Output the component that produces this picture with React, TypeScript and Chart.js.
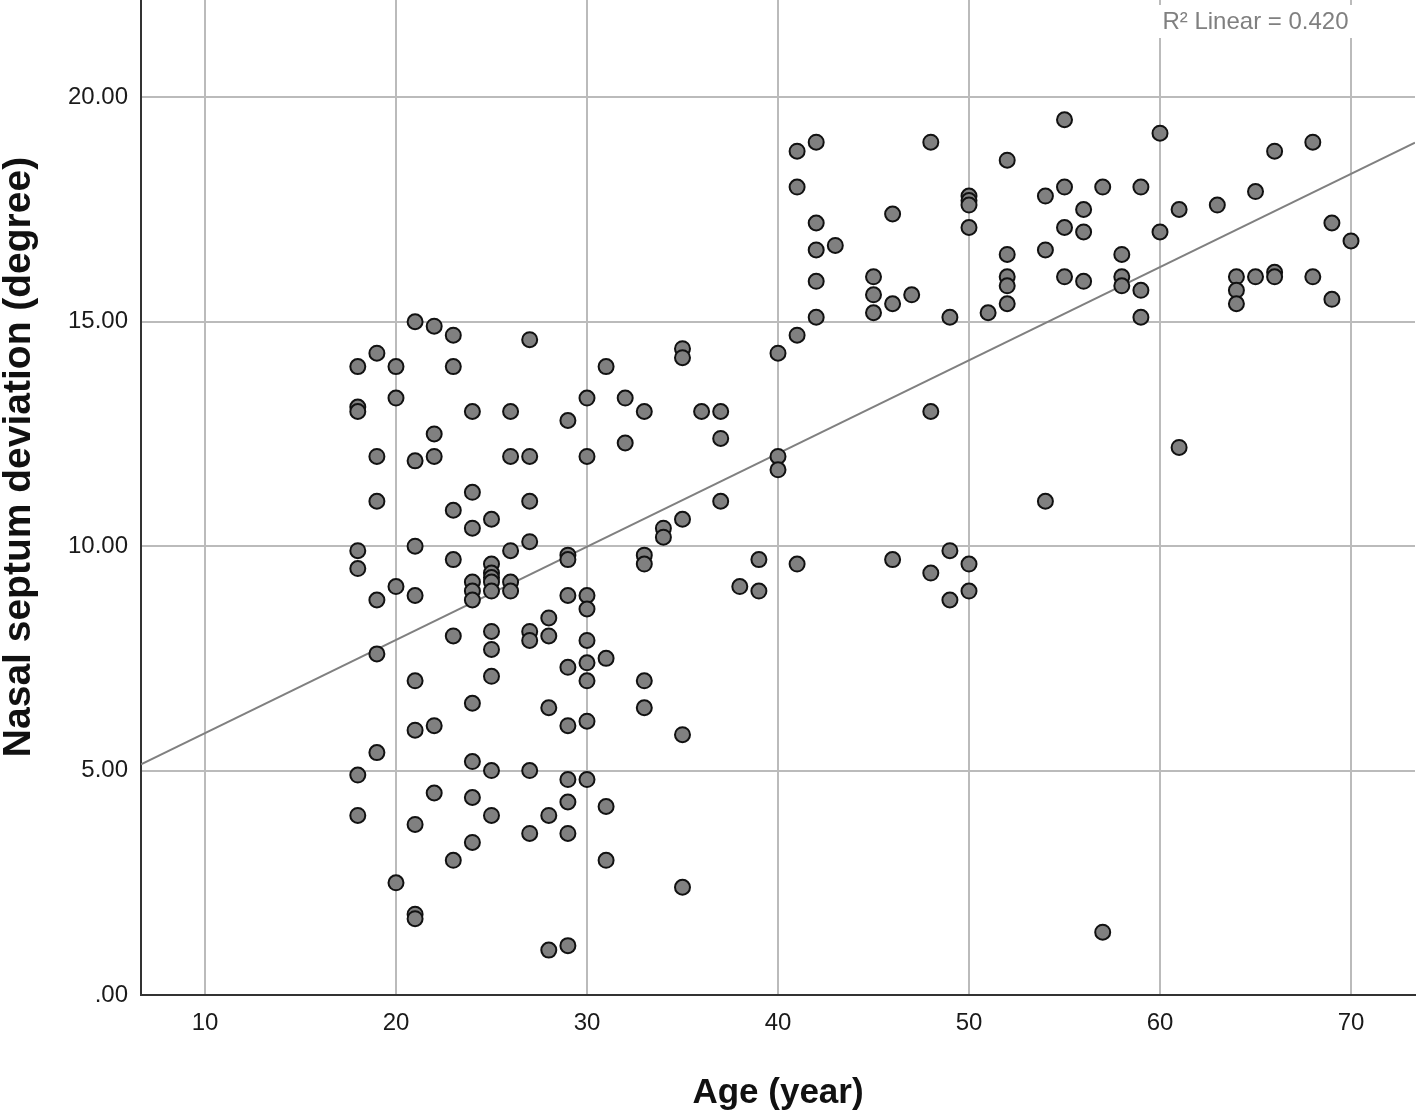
import React, { useEffect, useRef } from "react";
import { Chart, registerables } from "chart.js";

Chart.register(...registerables);

// Age (x) and septum deviation (y) of each case
const ages: number[] = [
  18, 18, 18, 18, 18, 18, 18,
  19, 19, 19, 19, 19, 19,
  20, 20, 20, 20,
  21, 21, 21, 21, 21, 21, 21, 21, 21,
  22, 22, 22, 22, 22,
  23, 23, 23, 23, 23, 23,
  24, 24, 24, 24, 24, 24, 24, 24, 24, 24,
  25, 25, 25, 25, 25, 25, 25, 25, 25, 25, 25,
  26, 26, 26, 26, 26,
  27, 27, 27, 27, 27, 27, 27, 27,
  28, 28, 28, 28, 28,
  29, 29, 29, 29, 29, 29, 29, 29, 29, 29,
  30, 30, 30, 30, 30, 30, 30, 30, 30,
  31, 31, 31, 31,
  32, 32,
  33, 33, 33, 33, 33,
  34, 34,
  35, 35, 35, 35, 35,
  36,
  37, 37, 37,
  38,
  39, 39,
  40, 40, 40,
  41, 41, 41, 41,
  42, 42, 42, 42, 42,
  43,
  45, 45, 45,
  46, 46, 46,
  47,
  48, 48, 48,
  49, 49, 49,
  50, 50, 50, 50, 50, 50,
  51,
  52, 52, 52, 52, 52,
  54, 54, 54,
  55, 55, 55, 55,
  56, 56, 56,
  57, 57,
  58, 58, 58,
  59, 59, 59,
  60, 60,
  61, 61,
  63,
  64, 64, 64,
  65, 65,
  66, 66, 66,
  68, 68,
  69, 69,
  70,
];

const deviations: number[] = [
  14.0, 13.1, 13.0, 9.9, 9.5, 4.9, 4.0,
  14.3, 12.0, 11.0, 8.8, 7.6, 5.4,
  14.0, 13.3, 9.1, 2.5,
  15.0, 11.9, 10.0, 8.9, 7.0, 5.9, 3.8, 1.8, 1.7,
  14.9, 12.5, 12.0, 6.0, 4.5,
  14.7, 14.0, 10.8, 9.7, 8.0, 3.0,
  13.0, 11.2, 10.4, 9.2, 9.0, 8.8, 6.5, 5.2, 4.4, 3.4,
  10.6, 9.6, 9.4, 9.3, 9.2, 9.0, 8.1, 7.7, 7.1, 5.0, 4.0,
  13.0, 12.0, 9.9, 9.2, 9.0,
  14.6, 12.0, 11.0, 10.1, 8.1, 7.9, 5.0, 3.6,
  8.4, 8.0, 6.4, 4.0, 1.0,
  12.8, 9.8, 9.7, 8.9, 7.3, 6.0, 4.8, 4.3, 3.6, 1.1,
  13.3, 12.0, 8.9, 8.6, 7.9, 7.4, 7.0, 6.1, 4.8,
  14.0, 7.5, 4.2, 3.0,
  13.3, 12.3,
  13.0, 9.8, 9.6, 7.0, 6.4,
  10.4, 10.2,
  14.4, 14.2, 10.6, 5.8, 2.4,
  13.0,
  13.0, 12.4, 11.0,
  9.1,
  9.7, 9.0,
  14.3, 12.0, 11.7,
  18.8, 18.0, 14.7, 9.6,
  19.0, 17.2, 16.6, 15.9, 15.1,
  16.7,
  16.0, 15.6, 15.2,
  17.4, 15.4, 9.7,
  15.6,
  19.0, 13.0, 9.4,
  15.1, 9.9, 8.8,
  17.8, 17.7, 17.6, 17.1, 9.6, 9.0,
  15.2,
  18.6, 16.5, 16.0, 15.8, 15.4,
  17.8, 16.6, 11.0,
  19.5, 18.0, 17.1, 16.0,
  17.5, 17.0, 15.9,
  18.0, 1.4,
  16.5, 16.0, 15.8,
  18.0, 15.7, 15.1,
  19.2, 17.0,
  17.5, 12.2,
  17.6,
  16.0, 15.7, 15.4,
  17.9, 16.0,
  18.8, 16.1, 16.0,
  19.0, 16.0,
  17.2, 15.5,
  16.8,
];

// Fitted linear line, read at the two plot edges
const fitX: number[] = [6.65, 73.35];
const fitY: number[] = [5.14, 18.99];

const xTicks: number[] = [10, 20, 30, 40, 50, 60, 70];
const yTicks: number[] = [0, 5, 10, 15, 20];
const yTickLabels: string[] = [".00", "5.00", "10.00", "15.00", "20.00"];

const xRange: number[] = [6.65, 73.35];
const yRange: number[] = [0, 22.168];

const xTitle = "Age (year)";
const yTitle = "Nasal septum deviation (degree)";
const fitLabel = "R\u00B2 Linear = 0.420";
const fitLabelAge = 65;

const FONT = "'Liberation Sans', Arial, Helvetica, sans-serif";

const annotations = {
  id: "extraText",
  afterDatasetsDraw(chart: any) {
    const { ctx } = chart;
    const xs = chart.scales.x;
    const cx = xs.getPixelForValue(fitLabelAge);
    ctx.save();
    ctx.font = `24px ${FONT}`;
    const w = ctx.measureText(fitLabel).width;
    ctx.fillStyle = "#ffffff";
    ctx.fillRect(cx - w / 2 - 10, 5, w + 20, 33);
    ctx.fillStyle = "#808080";
    ctx.textAlign = "center";
    ctx.textBaseline = "middle";
    ctx.fillText(fitLabel, cx, 22);
    ctx.restore();
  },
  afterDraw(chart: any) {
    const { ctx } = chart;
    ctx.save();
    ctx.translate(19, 457);
    ctx.rotate(-Math.PI / 2);
    ctx.font = `bold 39px ${FONT}`;
    ctx.fillStyle = "#111111";
    ctx.textAlign = "center";
    ctx.textBaseline = "middle";
    ctx.fillText(yTitle, 0, 0);
    ctx.restore();
  },
};

const zeroPadding = (s: any) => {
  s.paddingTop = 0;
  s.paddingBottom = 0;
  s.paddingLeft = 0;
  s.paddingRight = 0;
};

export default function App() {
  const ref = useRef<HTMLCanvasElement | null>(null);

  useEffect(() => {
    if (!ref.current) return;
    Chart.defaults.font.family = FONT;
    const points = ages.map((a, i) => ({ x: a, y: deviations[i] }));
    const fit = fitX.map((x, i) => ({ x, y: fitY[i] }));
    const chart = new Chart(ref.current, {
      type: "scatter",
      data: {
        datasets: [
          {
            type: "scatter",
            label: "Cases",
            data: points,
            backgroundColor: "#808080",
            borderColor: "#111111",
            borderWidth: 2,
            pointRadius: 7.5,
            pointHoverRadius: 7.5,
            order: 0,
          },
          {
            type: "line",
            label: "Linear fit",
            data: fit,
            borderColor: "#808080",
            borderWidth: 2,
            pointRadius: 0,
            fill: false,
            order: 1,
          } as any,
        ],
      },
      plugins: [annotations],
      options: {
        animation: false,
        responsive: false,
        devicePixelRatio: 1,
        layout: { autoPadding: false, padding: { left: 0, right: 1, top: 0, bottom: 0 } },
        plugins: {
          legend: { display: false },
          tooltip: { enabled: false },
          title: { display: false },
        },
        scales: {
          x: {
            type: "linear",
            position: "bottom",
            min: xRange[0],
            max: xRange[1],
            afterBuildTicks: (s: any) => {
              s.ticks = xTicks.map((v) => ({ value: v }));
            },
            afterFit: (s: any) => {
              s.height = 118;
              zeroPadding(s);
            },
            ticks: {
              padding: 14,
              color: "#1a1a1a",
              font: { size: 24 },
              callback: (v: any) => String(v),
            },
            grid: {
              color: "#bbbbbb",
              lineWidth: 2,
              drawTicks: false,
            },
            border: { display: true, color: "#333333", width: 2 },
            title: {
              display: true,
              text: xTitle,
              color: "#111111",
              font: { size: 35, weight: "bold", lineHeight: 1 },
              padding: { top: 0, bottom: 2 },
            },
          },
          y: {
            type: "linear",
            position: "left",
            min: yRange[0],
            max: yRange[1],
            afterBuildTicks: (s: any) => {
              s.ticks = yTicks.map((v) => ({ value: v }));
            },
            afterFit: (s: any) => {
              s.width = 141;
              zeroPadding(s);
            },
            ticks: {
              padding: 13,
              color: "#1a1a1a",
              font: { size: 24 },
              callback: (v: any) => {
                const i = yTicks.indexOf(Number(v));
                return i >= 0 ? yTickLabels[i] : "";
              },
            },
            grid: {
              color: "#bbbbbb",
              lineWidth: 2,
              drawTicks: false,
            },
            border: { display: true, color: "#333333", width: 2 },
          },
        },
      } as any,
    });
    return () => chart.destroy();
  }, []);

  return (
    <div style={{ position: "absolute", left: 0, top: 0, width: 1416, height: 1113, background: "#ffffff" }}>
      <canvas ref={ref} width={1416} height={1113} style={{ display: "block", width: 1416, height: 1113 }} />
    </div>
  );
}
